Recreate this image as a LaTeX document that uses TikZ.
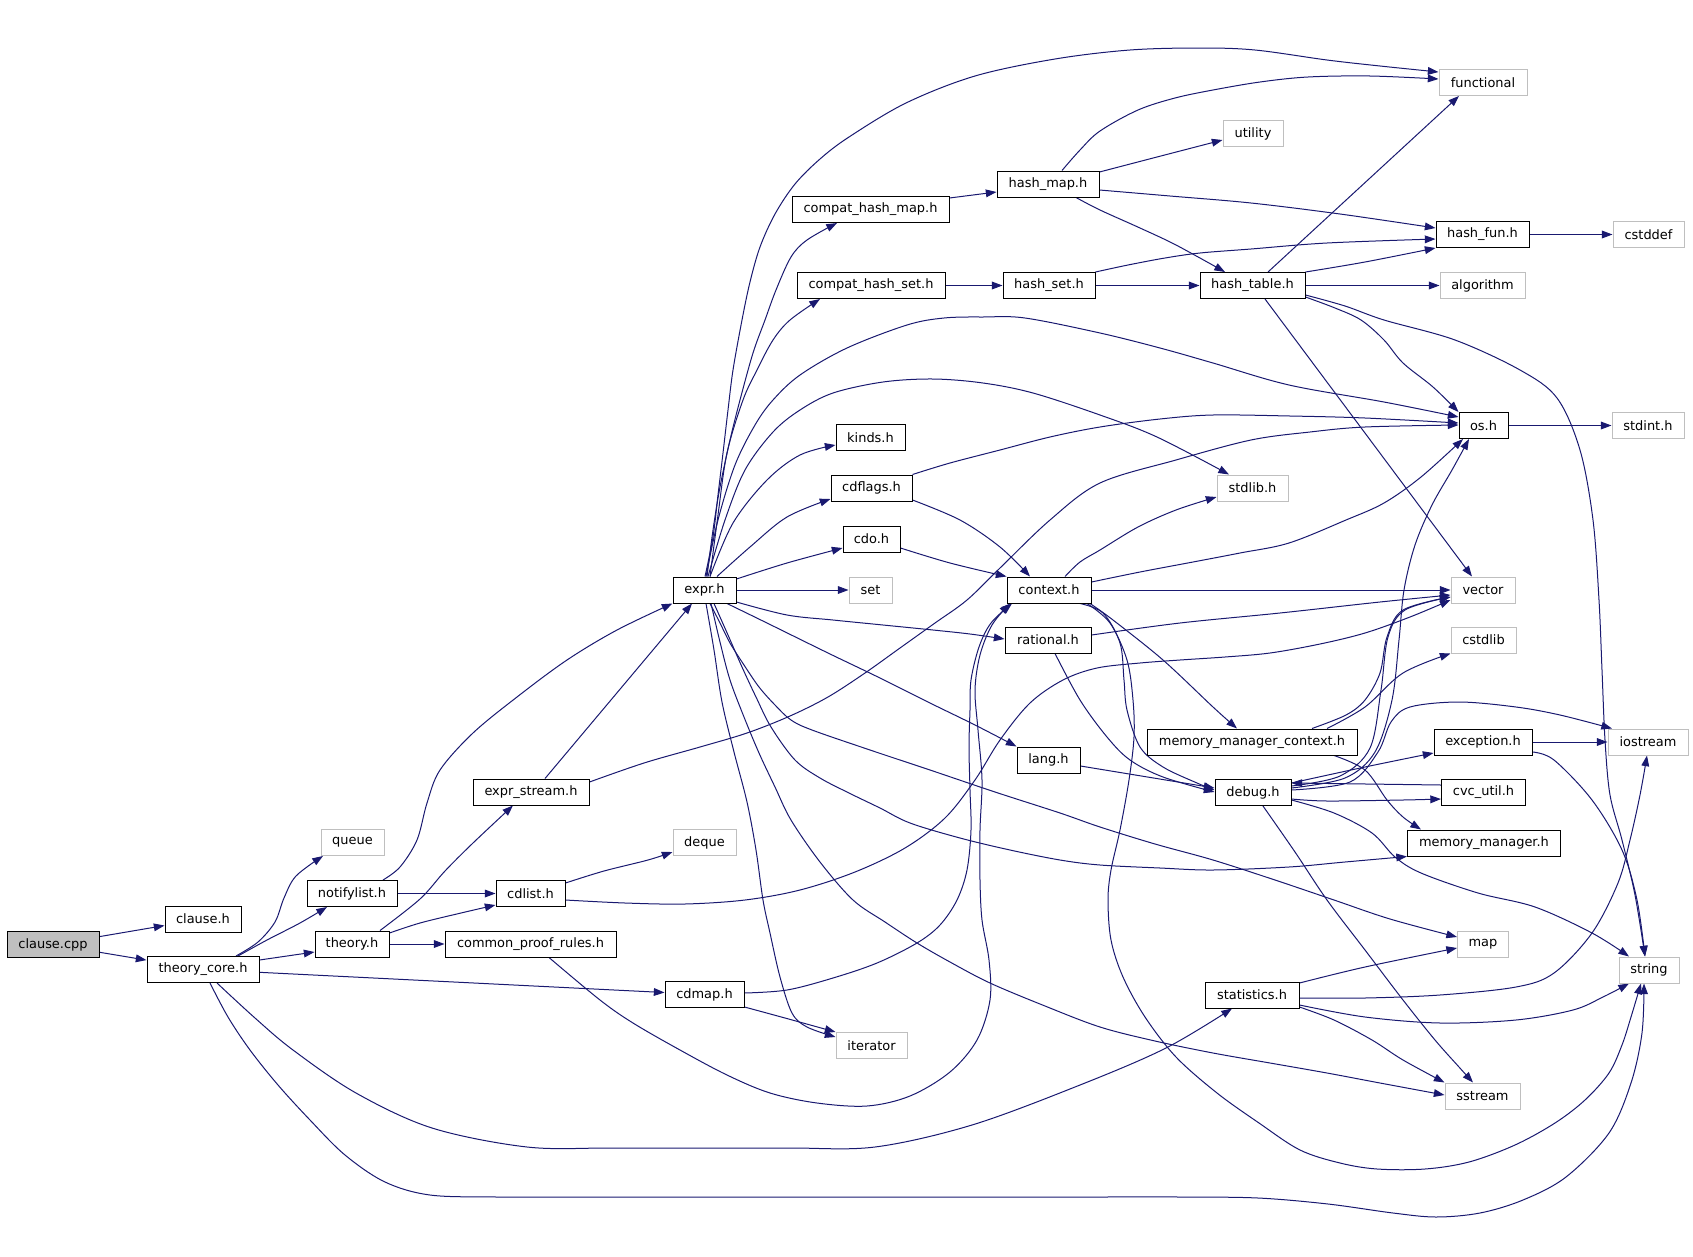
\documentclass[tikz,border=0pt]{standalone}
\usepackage{fontspec}
\setmainfont{DejaVu Sans}
\usetikzlibrary{arrows.meta}
\definecolor{edgec}{HTML}{191970}
\definecolor{grayb}{HTML}{BFBFBF}
\pgfdeclarelayer{bg}
\pgfsetlayers{bg,main}
\begin{document}
\begin{tikzpicture}[x=0.75pt,y=-0.75pt,
  hdr/.style={draw=black, line width=0.75pt, fill=white, inner sep=0pt, minimum height=19.5pt, font=\fontsize{9.7}{11}\selectfont, text=black},
  ext/.style={hdr, draw=grayb},
  bw/.style={minimum width=#1*0.75pt},
  e/.style={draw=edgec, line width=0.75pt, -{Triangle[length=8pt,width=5.8pt]}},
  sm/.style={smooth, tension=0.55}]
\useasboundingbox (0,0) rectangle (1693,1257);
% ---------- nodes ----------
\node[hdr,bw=92,fill=grayb] (ccpp) at (53,944.5) {clause.cpp};
\node[hdr,bw=76] (clh) at (203,919) {clause.h};
\node[hdr,bw=112] (tcore) at (203,969.5) {theory\_core.h};
\node[ext,bw=63] (queue) at (352.5,842.5) {queue};
\node[hdr,bw=90] (nlist) at (352,893.5) {notifylist.h};
\node[hdr,bw=74] (thy) at (352,944) {theory.h};
\node[hdr,bw=171] (cpr) at (530.5,944) {common\_proof\_rules.h};
\node[hdr,bw=116] (estream) at (531,792) {expr\_stream.h};
\node[hdr,bw=69] (cdlist) at (530.5,893.5) {cdlist.h};
\node[hdr,bw=63] (expr) at (704.5,590) {expr.h};
\node[ext,bw=63] (deque) at (704.5,842.5) {deque};
\node[hdr,bw=79] (cdmap) at (704.5,994.5) {cdmap.h};
\node[hdr,bw=157] (chm) at (870.5,209.5) {compat\_hash\_map.h};
\node[hdr,bw=148] (chs) at (871,285.5) {compat\_hash\_set.h};
\node[hdr,bw=69] (kinds) at (870.5,437.5) {kinds.h};
\node[hdr,bw=81] (cdflags) at (871.5,488) {cdflags.h};
\node[hdr,bw=57] (cdo) at (871.5,539) {cdo.h};
\node[ext,bw=43] (nset) at (870.5,590) {set};
\node[ext,bw=71] (iter) at (871.5,1045.5) {iterator};
\node[hdr,bw=102] (hmap) at (1048,184) {hash\_map.h};
\node[hdr,bw=92] (hset) at (1049,285.5) {hash\_set.h};
\node[hdr,bw=84] (ctx) at (1049,590) {context.h};
\node[hdr,bw=86] (rat) at (1048,640) {rational.h};
\node[hdr,bw=63] (lang) at (1048.5,760) {lang.h};
\node[ext,bw=60] (util) at (1253,133.5) {utility};
\node[hdr,bw=105] (htab) at (1252.5,285.5) {hash\_table.h};
\node[ext,bw=71] (stdlibh) at (1252.5,488) {stdlib.h};
\node[hdr,bw=210] (mmc) at (1252,742) {memory\_manager\_context.h};
\node[hdr,bw=76] (dbg) at (1253,792.5) {debug.h};
\node[hdr,bw=94] (stats) at (1252,995) {statistics.h};
\node[ext,bw=88] (func) at (1483,82.5) {functional};
\node[hdr,bw=93] (hfun) at (1482.5,234.5) {hash\_fun.h};
\node[ext,bw=85] (algo) at (1482.5,285.5) {algorithm};
\node[hdr,bw=49] (os) at (1483.5,425.5) {os.h};
\node[ext,bw=64] (vec) at (1483,590) {vector};
\node[ext,bw=65] (cstdlib) at (1483.5,640) {cstdlib};
\node[hdr,bw=98] (exc) at (1483,742) {exception.h};
\node[hdr,bw=84] (cvcu) at (1483.5,792.5) {cvc\_util.h};
\node[hdr,bw=153] (mm) at (1484,843) {memory\_manager.h};
\node[ext,bw=51] (nmap) at (1483,944) {map};
\node[ext,bw=75] (sstr) at (1482.5,1096) {sstream};
\node[ext,bw=71] (cstddef) at (1648.5,234.5) {cstddef};
\node[ext,bw=72] (stdint) at (1648,425.5) {stdint.h};
\node[ext,bw=80] (iostr) at (1648,742) {iostream};
\node[ext,bw=60] (str) at (1649,970) {string};
% ---------- edges ----------
\begin{pgfonlayer}{bg}
% clause.cpp
\draw[e] (ccpp) -- (clh);
\draw[e] (ccpp) -- (tcore);
% theory_core.h
\draw[e] plot[sm] coordinates {(236,0 |- tcore.north) (258,942) (275,922) (284,898) (296,876) (323,0 |- queue.south)};
\draw[e] plot[sm] coordinates {(238,0 |- tcore.north) (267,940) (300,923) (327,0 |- nlist.south)};
\draw[e] (tcore.east |- 0,960) -- (thy.west |- 0,952);
\draw[e] (tcore) -- (cdmap);
\draw[e] plot[sm] coordinates {(217,0 |- tcore.south) (255,1018) (293,1050) (356,1093) (432,1128) (527,1147) (610,1148) (700,1148) (790,1148) (875,1147) (972,1125) (1080,1085) (1166,1048) (1232,0 |- stats.south)};
\draw[e] plot[sm] coordinates {(210,0 |- tcore.south) (228,1017) (250,1050) (278,1085) (310,1120) (345,1155) (385,1182) (430,1195) (497,1197) (590,1197) (690,1197) (790,1197) (890,1197) (990,1197) (1090,1197) (1180,1197) (1258,1198) (1328,1204) (1393,1213) (1436,1217) (1480,1213) (1523,1200) (1566,1177) (1609,1133) (1631,1083) (1642,1033) (1644,0 |- str.south)};
% theory.h
\draw[e] plot[sm] coordinates {(380,0 |- thy.north) (420,899) (445,871) (473,843) (513,0 |- estream.south)};
\draw[e] plot[sm] coordinates {(thy.east |- 0,933) (420,923) (461,913) (cdlist.west |- 0,905)};
\draw[e] (thy) -- (cpr);
% notifylist.h
\draw[e] (nlist) -- (cdlist);
\draw[e] plot[sm] coordinates {(383,0 |- nlist.north) (400,867) (417,840) (427,803) (440,770) (473,733) (517,697) (567,660) (617,630) (expr.south west)};
% expr_stream.h
\draw[e] (545,0 |- estream.north) -- (692,0 |- expr.south);
\draw[e] plot[sm] coordinates {(estream.east |- 0,782) (644,763) (700,747) (747,733) (790,716) (828,697) (865,673) (900,648) (935,623) (967,600) (1000,568) (1050,520) (1100,483) (1176,460) (1251,440) (1310,432) (1365,427) (os.west |- 0,425)};
% cdlist.h
\draw[e] plot[sm] coordinates {(cdlist.east |- 0,883) (604,871) (648,860) (deque.west |- 0,852)};
\draw[e] plot[sm] coordinates {(cdlist.east |- 0,900) (625,903) (685,904) (745,900) (800,890) (855,872) (905,848) (945,818) (975,780) (1000,740) (1030,703) (1063,680) (1097,668) (1140,663) (1180,660) (1225,657) (1270,653) (1320,644) (1365,633) (1410,617) (vec.west |- 0,600)};
% common_proof_rules.h
\draw[e] plot[sm] coordinates {(549,0 |- cpr.south) (600,1000) (633,1023) (680,1050) (727,1075) (770,1093) (817,1103) (867,1106) (910,1096) (950,1072) (977,1040) (990,1000) (989,960) (982,920) (980,880) (980,830) (982,780) (978,730) (975,690) (980,655) (992,625) (1010,0 |- ctx.south)};
% cdmap.h
\draw[e] plot[sm] coordinates {(cdmap.east |- 0,993) (787,990) (833,978) (877,963) (917,943) (940,925) (957,900) (967,870) (971,830) (970,790) (969,747) (970,710) (971,680) (979,647) (991,623) (1012,0 |- ctx.south)};
\draw[e] plot[sm] coordinates {(cdmap.east |- 0,1007) (785,1018) (iter.north west)};
% expr.h
\draw[e] plot[sm] coordinates {(705,0 |- expr.north) (713,537) (718,495) (723,453) (728,410) (733,370) (742,320) (750,282) (760,247) (775,214) (795,184) (820,159) (849,137) (906,103) (975,76) (1055,59) (1130,50) (1200,48) (1255,50) (1327,60) (1380,66) (func.west |- 0,72)};
\draw[e] plot[sm] coordinates {(707,0 |- expr.north) (713,530) (720,487) (730,440) (740,400) (753,353) (765,320) (776,290) (791,257) (807,240) (837,0 |- chm.south)};
\draw[e] plot[sm] coordinates {(710,0 |- expr.north) (718,515) (727,453) (743,400) (757,370) (773,340) (790,320) (820,0 |- chs.south)};
\draw[e] plot[sm] coordinates {(706,0 |- expr.north) (718,520) (735,465) (755,425) (773,400) (800,375) (847,348) (907,325) (944,318) (983,317) (1025,318) (1100,333) (1160,348) (1213,363) (1289,385) (1384,402) (os.west |- 0,417)};
\draw[e] plot[sm] coordinates {(708,0 |- expr.north) (725,520) (745,470) (773,432) (800,410) (833,393) (883,382) (933,379) (983,383) (1033,393) (1100,415) (1157,437) (1229,0 |- stdlibh.north)};
\draw[e] plot[sm] coordinates {(710,0 |- expr.north) (733,523) (767,480) (800,455) (kinds.west |- 0,445)};
\draw[e] plot[sm] coordinates {(717,0 |- expr.north) (750,547) (787,517) (cdflags.west |- 0,499)};
\draw[e] plot[sm] coordinates {(expr.east |- 0,579) (787,563) (cdo.west |- 0,548)};
\draw[e] (expr) -- (nset);
\draw[e] plot[sm] coordinates {(expr.east |- 0,602) (787,615) (833,620) (883,625) (933,630) (970,634) (rat.west |- 0,639)};
\draw[e] plot[sm] coordinates {(727,0 |- expr.south) (767,623) (828,653) (880,678) (930,703) (975,725) (lang.north west)};
\draw[e] plot[sm] coordinates {(710,0 |- expr.south) (720,623) (730,643) (744,665) (759,687) (775,705) (791,720) (812,730) (870,750) (930,770) (995,792) (1060,813) (1100,827) (1155,844) (1213,860) (1275,880) (1334,900) (1390,919) (nmap.west |- 0,937)};
\draw[e] plot[sm] coordinates {(714,0 |- expr.south) (728,635) (742,667) (756,697) (771,727) (795,760) (820,778) (849,793) (880,808) (910,823) (960,838) (1010,850) (1060,860) (1100,865) (1160,868) (1213,870) (1289,867) (1345,862) (mm.south west)};
\draw[e] plot[sm] coordinates {(711,0 |- expr.south) (720,642) (730,680) (744,717) (759,753) (775,787) (791,820) (820,862) (853,900) (885,922) (917,943) (950,962) (990,983) (1045,1006) (1100,1027) (1155,1041) (1213,1053) (1270,1063) (1327,1073) (1380,1083) (sstr.west |- 0,1095)};
\draw[e] plot[sm] coordinates {(706,0 |- expr.south) (714,650) (722,702) (734,752) (747,802) (756,850) (763,900) (770,933) (780,977) (792,1013) (807,1027) (iter.west |- 0,1037)};
% compat headers
\draw[e] (chm.east |- 0,198) -- (hmap.west |- 0,192);
\draw[e] (chs) -- (hset);
% hash_map.h
\draw[e] plot[sm] coordinates {(1062,0 |- hmap.north) (1080,150) (1100,131) (1138,110) (1175,98) (1213,90) (1260,82) (1308,77) (1370,76) (func.west |- 0,79)};
\draw[e] plot[sm] coordinates {(hmap.east |- 0,172) (1157,157) (util.west |- 0,140)};
\draw[e] plot[sm] coordinates {(hmap.east |- 0,190) (1170,196) (1251,203) (1340,214) (hfun.west |- 0,228)};
\draw[e] plot[sm] coordinates {(1076,0 |- hmap.south) (1100,210) (1140,228) (1176,245) (1225,0 |- htab.north)};
% hash_set.h
\draw[e] plot[sm] coordinates {(hset.north east) (1128,265) (1165,258) (1200,253) (1251,249) (1327,243) (hfun.west |- 0,239)};
\draw[e] (hset) -- (htab);
% hash_table.h
\draw[e] (1268,0 |- htab.north) -- (1459,0 |- func.south);
\draw[e] plot[sm] coordinates {(htab.north east) (1365,262) (hfun.south west)};
\draw[e] (htab) -- (algo);
\draw[e] (1265,0 |- htab.south) -- (1472,0 |- vec.north);
\draw[e] plot[sm] coordinates {(htab.east |- 0,297) (1335,308) (1361,320) (1384,340) (1403,363) (1433,387) (os.north west)};
\draw[e] plot[sm] coordinates {(htab.east |- 0,295) (1345,306) (1384,320) (1455,340) (1520,370) (1557,398) (1580,450) (1593,520) (1599,600) (1602,670) (1605,740) (1610,795) (1622,840) (1635,895) (1645,0 |- str.north)};
\draw[e] (hfun) -- (cstddef);
\draw[e] (os) -- (stdint);
% cdflags.h, cdo.h
\draw[e] plot[sm] coordinates {(cdflags.north east) (950,463) (1000,450) (1050,437) (1100,427) (1160,419) (1213,415) (1290,416) (1365,418) (os.west |- 0,423)};
\draw[e] plot[sm] coordinates {(cdflags.east |- 0,500) (960,520) (1000,547) (1030,0 |- ctx.north)};
\draw[e] plot[sm] coordinates {(cdo.east |- 0,548) (950,563) (ctx.north west)};
% context.h
\draw[e] plot[sm] coordinates {(1065,0 |- ctx.north) (1080,562) (1100,550) (1138,527) (1176,510) (stdlibh.west |- 0,497)};
\draw[e] plot[sm] coordinates {(ctx.east |- 0,582) (1140,572) (1193,562) (1240,553) (1289,543) (1346,520) (1384,503) (1421,477) (1463,0 |- os.south)};
\draw[e] (ctx) -- (vec);
\draw[e] plot[sm] coordinates {(1090,0 |- ctx.south) (1113,620) (1163,660) (1213,707) (1237,0 |- mmc.north)};
\draw[e] plot[sm] coordinates {(1080,0 |- ctx.south) (1103,613) (1120,643) (1124,680) (1127,710) (1140,747) (1163,767) (1197,783) (dbg.west |- 0,790)};
\draw[e] plot[sm] coordinates {(1087,0 |- ctx.south) (1110,623) (1127,660) (1133,700) (1134,737) (1129,780) (1120,830) (1111,870) (1108,900) (1111,940) (1123,977) (1145,1017) (1176,1057) (1217,1093) (1259,1123) (1300,1150) (1340,1163) (1377,1169) (1425,1169) (1469,1162) (1515,1145) (1555,1123) (1585,1100) (1609,1073) (1622,1045) (1631,1017) (1641,0 |- str.south)};
% rational.h, lang.h
\draw[e] plot[sm] coordinates {(rat.east |- 0,635) (1180,623) (1280,613) (1380,602) (vec.west |- 0,595)};
\draw[e] plot[sm] coordinates {(1055,0 |- rat.south) (1080,700) (1107,737) (1130,760) (1163,777) (dbg.west |- 0,792)};
\draw[e] (lang.east |- 0,766) -- (dbg.west |- 0,788);
% memory_manager_context.h
\draw[e] plot[sm] coordinates {(1312,0 |- mmc.north) (1346,715) (1365,700) (1380,673) (1387,637) (1403,610) (vec.west |- 0,597)};
\draw[e] plot[sm] coordinates {(1327,0 |- mmc.north) (1365,707) (1403,673) (cstdlib.south west)};
\draw[e] plot[sm] coordinates {(1334,0 |- mmc.south) (1365,770) (1387,800) (1403,817) (1421,0 |- mm.north)};
% debug.h
\draw[e] plot[sm] coordinates {(dbg.east |- 0,788) (1345,778) (1375,752) (1392,700) (1399,640) (1404,590) (1415,545) (1432,505) (1452,470) (1469,0 |- os.south)};
\draw[e] plot[sm] coordinates {(dbg.east |- 0,786) (1340,776) (1370,748) (1381,690) (1388,637) (1405,610) (vec.west |- 0,597)};
\draw[e] plot[sm] coordinates {(dbg.east |- 0,790) (1350,782) (1378,752) (1391,722) (1410,707) (1459,702) (1516,707) (1560,715) (1612,0 |- iostr.north)};
\draw[e] plot[sm] coordinates {(dbg.east |- 0,783) (1365,767) (exc.west |- 0,753)};
\draw[e] plot[sm] coordinates {(dbg.east |- 0,799) (1327,801) (1403,800) (cvcu.west |- 0,799)};
\draw[e] plot[sm] coordinates {(dbg.east |- 0,800) (1334,813) (1372,833) (1395,857) (1421,873) (1478,893) (1535,907) (1592,933) (1629,0 |- str.north)};
\draw[e] plot[sm] coordinates {(1263,0 |- dbg.south) (1295,852) (1327,900) (1365,950) (1403,1000) (1435,1040) (1459,1067) (1473,0 |- sstr.north)};
\draw[e] (cvcu.west |- 0,785) -- (dbg.east |- 0,783);
% exception.h
\draw[e] (exc) -- (iostr);
\draw[e] plot[sm] coordinates {(exc.east |- 0,752) (1554,760) (1592,800) (1622,850) (1637,900) (1645,0 |- str.north)};
% statistics.h
\draw[e] plot[sm] coordinates {(stats.east |- 0,983) (1365,967) (nmap.west |- 0,948)};
\draw[e] plot[sm] coordinates {(stats.east |- 0,998) (1365,998) (1440,995) (1516,987) (1554,973) (1592,933) (1618,883) (1630,840) (1640,795) (1647,0 |- iostr.south)};
\draw[e] plot[sm] coordinates {(stats.east |- 0,1005) (1365,1017) (1440,1023) (1516,1020) (1573,1010) (1603,997) (1629,0 |- str.south)};
\draw[e] plot[sm] coordinates {(stats.east |- 0,1007) (1334,1020) (1372,1040) (1403,1060) (sstr.north west)};
\end{pgfonlayer}
\end{tikzpicture}
\end{document}
